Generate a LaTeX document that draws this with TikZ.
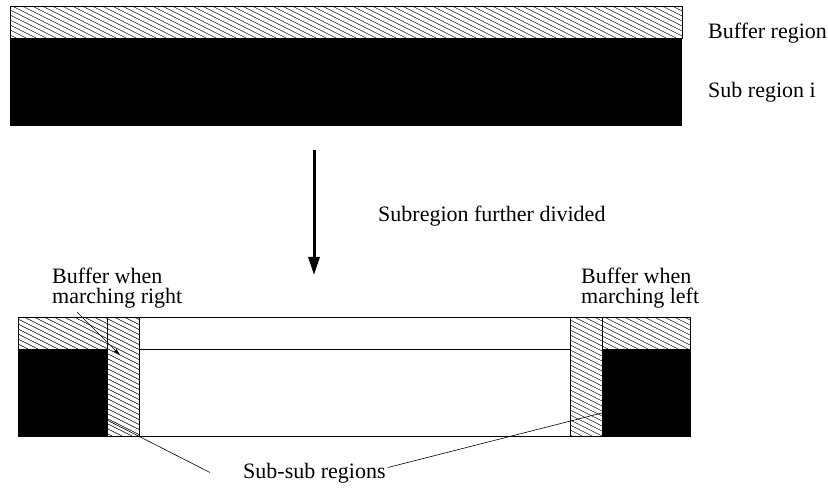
\documentclass[tikz,border=0pt]{standalone}
\usepackage{fontspec}
\setmainfont{Liberation Serif}
\usetikzlibrary{arrows.meta, positioning}

% hatched box: #1,#2 top left, #3,#4 bottom right
\newcommand{\hatchrect}[4]{%
  \begin{scope}
    \clip (#1,#2) rectangle (#3,#4);
    \foreach \c in {-900,-890,...,700}
      \draw[hatch] ({\c+2*#2},#2) -- ({\c+2*#4},#4);
  \end{scope}
  \draw[frame] (#1,#2) rectangle (#3,#4);
}

\begin{document}
\begin{tikzpicture}[x=1pt,y=-1pt,
    hatch/.style={line width=0.45pt},
    frame/.style={line width=0.7pt},
    lbl/.style={inner sep=0pt, font=\fontsize{22}{20.5}\selectfont, align=left, anchor=base west}]
    \useasboundingbox (0,0) rectangle (828,489);

    % sub region with its buffer
    \hatchrect{10}{6}{682}{38}
    \fill (10,38) rectangle (682,126);
    \node[lbl] (bufreg) at (708,39) {Buffer region};
    \node[lbl] (subreg) at (708,98) {Sub region i};

    % dividing step
    \coordinate (divtop) at (314,150);
    \coordinate (divbot) at (314,275);
    \draw[-{Triangle[length=18pt,width=11pt]}, line width=3pt] (divtop) -- (divbot);
    \node[lbl] (divided) at (378,222) {Subregion further divided};

    % sub-sub regions
    \draw[frame] (18,317) rectangle (690,436);
    \draw[frame] (139,349) -- (570,349);
    \hatchrect{18}{317}{107}{349}
    \fill (18,349) rectangle (107,436);
    \hatchrect{107}{317}{139}{436}
    \hatchrect{570}{317}{602}{436}
    \hatchrect{602}{317}{690}{349}
    \fill (602,349) rectangle (690,436);

    \node[lbl] (marchr) at (52,304) {Buffer when\\marching right};
    \node[lbl] (marchl) at (581,304) {Buffer when\\marching left};
    \node[lbl] (subsub) at (243,478) {Sub-sub regions};

    \coordinate (rstrip) at (120,355);
    \coordinate (lstrip) at (107,420);
    \coordinate (rblock) at (602,413);
    \draw[-{Stealth[length=8pt,width=4pt]}, line width=0.6pt] ([shift={(25,3)}]marchr.south west) -- (rstrip);
    \draw[line width=0.6pt] (lstrip) -- ([shift={(-33,10)}]subsub.north west);
    \draw[line width=0.6pt] (rblock) -- ([shift={(2,5)}]subsub.north east);
\end{tikzpicture}
\end{document}
